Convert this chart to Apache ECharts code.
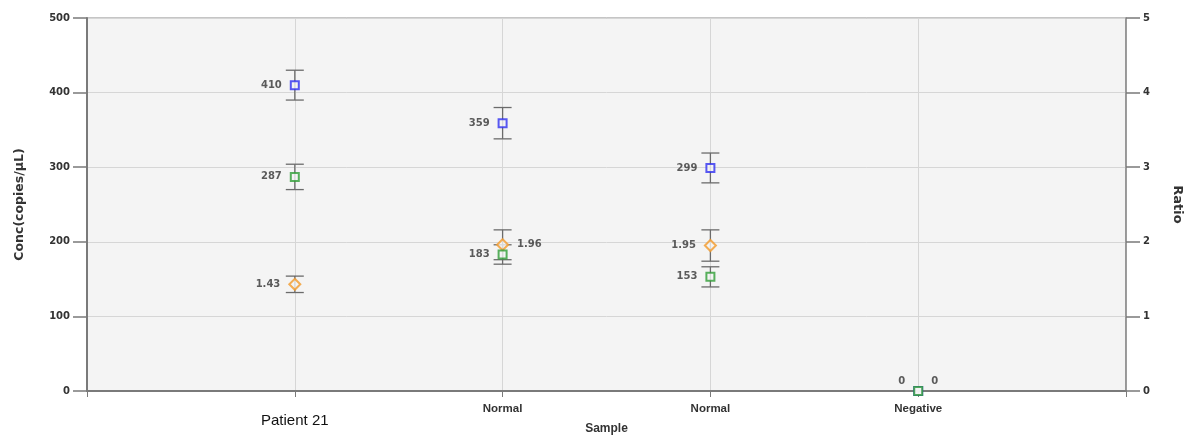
<!DOCTYPE html>
<html>
<head>
<meta charset="utf-8">
<script src="https://cdn.jsdelivr.net/npm/echarts@6/dist/echarts.min.js"></script>
<style>
  html, body { margin: 0; padding: 0; background: #fff; }
  #chart { width: 1191px; height: 439px; }
</style>
</head>
<body>
<div id="chart"></div>
<script>
// Samples along the x axis (placed at x = 1..4)
const samples = ['Patient 21', 'Normal', 'Normal', 'Negative'];

// Concentration (copies/µL) of the two targets, left axis
const concBlue  = [410, 359, 299, 0];
const concGreen = [287, 183, 153, 0];
// Half-widths of the concentration error bars
const errBlue   = [20, 21, 20, 0];
const errGreen  = [17, 13, 13.5, 0];

// Ratio, right axis
const ratio    = [1.43, 1.96, 1.95];
const errRatio = [0.11, 0.2, 0.21];

// Tick values
const concTicks  = [0, 100, 200, 300, 400, 500];
const ratioTicks = [0, 1, 2, 3, 4, 5];

const BLUE = '#3030f0', GREEN = '#2f9e36', ORANGE = '#f39a2b';
const NUM_FONT = 'DejaVu Sans';
const plotBg = '#f4f4f4';

function pts(values, errs) {
  return values.map((v, i) => [i + 1, v, errs[i]]);
}

// Error bar with caps, drawn through the axis scales
function errorBars(values, errs, yAxisIndex) {
  return {
    type: 'custom',
    yAxisIndex: yAxisIndex,
    z: 2,
    silent: true,
    data: pts(values, errs).filter(d => d[2] > 0),
    renderItem: function (params, api) {
      const x = api.value(0), y = api.value(1), e = api.value(2);
      const top = api.coord([x, y + e]);
      const bot = api.coord([x, y - e]);
      const half = 9;
      const style = { stroke: '#6b6b6b', lineWidth: 1.3 };
      return {
        type: 'group',
        children: [
          { type: 'line', shape: { x1: top[0], y1: top[1], x2: bot[0], y2: bot[1] }, style: style },
          { type: 'line', shape: { x1: top[0] - half, y1: top[1], x2: top[0] + half, y2: top[1] }, style: style },
          { type: 'line', shape: { x1: bot[0] - half, y1: bot[1], x2: bot[0] + half, y2: bot[1] }, style: style }
        ]
      };
    }
  };
}

const labelBase = {
  show: true,
  fontFamily: NUM_FONT,
  fontWeight: 'bold',
  fontSize: 10,
  color: '#333',
  distance: 8
};

function markerSeries(values, color, symbol, size, yAxisIndex, labelFor) {
  return {
    type: 'scatter',
    yAxisIndex: yAxisIndex,
    z: 5,
    symbol: symbol,
    symbolSize: size,
    itemStyle: { color: plotBg, borderColor: color, borderWidth: 2 },
    data: values.map((v, i) => {
      const item = { value: [i + 1, v] };
      const lab = labelFor(i);
      if (lab) item.label = lab;
      return item;
    }),
    label: Object.assign({}, labelBase, {
      position: 'left',
      formatter: p => String(p.value[1])
    })
  };
}

const last = samples.length - 1;

const option = {
  animation: false,
  grid: {
    left: 87, right: 65, top: 18, bottom: 48,
    containLabel: false,
    outerBoundsMode: 'none',
    show: true,
    backgroundColor: plotBg,
    borderColor: '#8a8a8a',
    borderWidth: 1
  },
  xAxis: {
    type: 'value',
    min: 0, max: samples.length + 1, interval: 1,
    name: 'Sample',
    nameLocation: 'middle',
    nameGap: 32,
    nameMoveOverlap: false,
    nameTextStyle: { fontFamily: 'Liberation Sans', fontWeight: 'bold', fontSize: 12, color: '#333' },
    axisLine: { show: true, lineStyle: { color: '#7a7a7a', width: 2 } },
    axisTick: { show: true, length: 6, lineStyle: { color: '#7a7a7a' } },
    splitLine: { show: true, lineStyle: { color: '#d6d6d6', width: 1 } },
    axisLabel: {
      margin: 12,
      fontFamily: 'Liberation Sans',
      fontWeight: 'bold',
      fontSize: 11.5,
      color: '#333',
      formatter: function (v) {
        const i = Math.round(v) - 1;
        if (i < 0 || i >= samples.length) return '';
        return i === 0 ? '{p|' + samples[i] + '}' : samples[i];
      },
      rich: {
        p: { fontFamily: 'Liberation Sans', fontWeight: 'normal', fontSize: 15, color: '#111', padding: [10, 0, 0, 0] }
      }
    }
  },
  yAxis: [
    {
      type: 'value',
      min: concTicks[0], max: concTicks[concTicks.length - 1], interval: 100,
      name: 'Conc(copies/µL)',
      nameLocation: 'middle',
      nameGap: 61,
      nameTextStyle: { fontFamily: NUM_FONT, fontWeight: 'bold', fontSize: 12.5, color: '#333' },
      axisLine: { show: true, lineStyle: { color: '#7a7a7a', width: 2 } },
      axisTick: { show: true, length: 14, lineStyle: { color: '#7a7a7a', width: 1.5 } },
      splitLine: { show: true, lineStyle: { color: '#d6d6d6', width: 1 } },
      axisLabel: { margin: 17, fontFamily: NUM_FONT, fontWeight: 'bold', fontSize: 10, color: '#333' }
    },
    {
      type: 'value',
      position: 'right',
      min: ratioTicks[0], max: ratioTicks[ratioTicks.length - 1], interval: 1,
      name: 'Ratio',
      nameLocation: 'middle',
      nameGap: 45,
      nameRotate: -90,
      nameTextStyle: { fontFamily: NUM_FONT, fontWeight: 'bold', fontSize: 13, color: '#333' },
      axisLine: { show: true, lineStyle: { color: '#8a8a8a', width: 1.5 } },
      axisTick: { show: true, length: 14, lineStyle: { color: '#7a7a7a', width: 1.5 } },
      splitLine: { show: false },
      axisLabel: { margin: 17, fontFamily: NUM_FONT, fontWeight: 'bold', fontSize: 10, color: '#333' }
    }
  ],
  series: [
    errorBars(concBlue, errBlue, 0),
    errorBars(concGreen, errGreen, 0),
    errorBars(ratio, errRatio, 1),
    markerSeries(concBlue, BLUE, 'rect', 8, 0,
      i => i === last ? { offset: [0, -10] } : null),
    markerSeries(ratio, ORANGE, 'diamond', 11, 1,
      i => i === 1 ? { position: 'right' } : null),
    markerSeries(concGreen, GREEN, 'rect', 8, 0,
      i => i === last ? { position: 'right', offset: [0, -10] } : null)
  ]
};

echarts.init(document.getElementById('chart')).setOption(option);
</script>
</body>
</html>
